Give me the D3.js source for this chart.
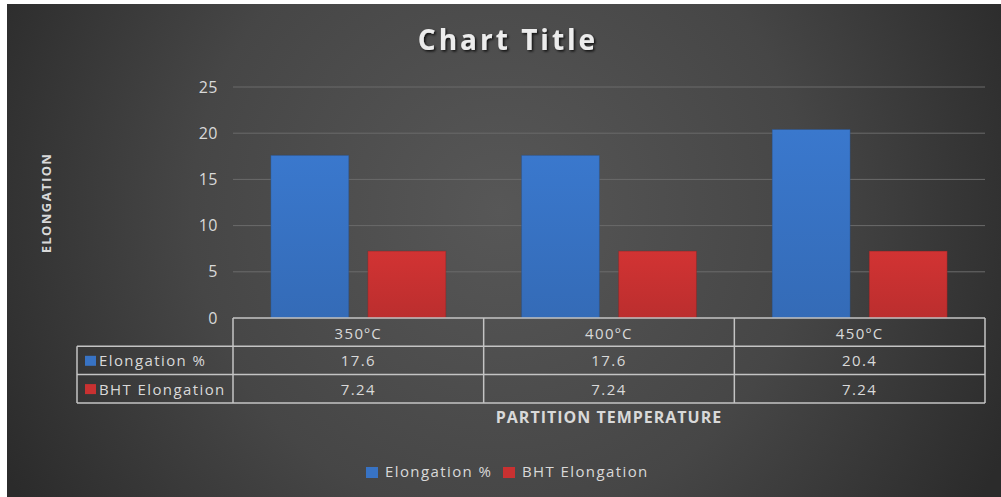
<!DOCTYPE html>
<html>
<head>
<meta charset="utf-8">
<script src="https://cdn.jsdelivr.net/npm/d3@7"></script>
<style>
  html, body { margin: 0; padding: 0; background: #fff; }
  svg { display: block; font-family: "Open Sans", sans-serif; }
</style>
</head>
<body>
<svg id="chart"></svg>
<script>
// Data
const categories = ['350ºC', '400ºC', '450ºC'];
const seriesNames = ['Elongation %', 'BHT Elongation'];
const elongation = [17.6, 17.6, 20.4];
const bhtElongation = [7.24, 7.24, 7.24];
const yTicks = [0, 5, 10, 15, 20, 25];

const seriesValues = [elongation, bhtElongation];
const COLORS = ['#3873c4', '#c93131'];
const TEXT = '#d9d9d9';
const SPACING = '1.4px';

const width = 1001, height = 497;
const margin = { top: 87, right: 16, bottom: 179, left: 233 };

const svg = d3.select('#chart').attr('width', width).attr('height', height);
const defs = svg.append('defs');

// Background gradient
const bg = defs.append('radialGradient').attr('id', 'bg')
  .attr('gradientUnits', 'userSpaceOnUse')
  .attr('cx', 500).attr('cy', 210).attr('r', 560);
bg.append('stop').attr('offset', '0%').attr('stop-color', '#575757');
bg.append('stop').attr('offset', '55%').attr('stop-color', '#464646');
bg.append('stop').attr('offset', '100%').attr('stop-color', '#2b2b2b');

// Bar gradients
COLORS.forEach((c, i) => {
  const lg = defs.append('linearGradient').attr('id', 'bar' + i)
    .attr('x1', 0).attr('y1', 0).attr('x2', 0).attr('y2', 1);
  lg.append('stop').attr('offset', '0%').attr('stop-color', d3.color(c).brighter(0.12));
  lg.append('stop').attr('offset', '100%').attr('stop-color', d3.color(c).darker(0.2));
});

const shadow = defs.append('filter').attr('id', 'shadow')
  .attr('x', '-10%').attr('y', '-30%').attr('width', '120%').attr('height', '160%');
shadow.append('feDropShadow').attr('dx', 1.5).attr('dy', 1.5).attr('stdDeviation', 1.2)
  .attr('flood-color', '#000').attr('flood-opacity', 0.8);

svg.append('rect').attr('width', width).attr('height', height).attr('fill', '#fff');
svg.append('rect').attr('x', 7).attr('y', 4).attr('width', width - 7).attr('height', height - 4)
  .attr('fill', 'url(#bg)');

const plotW = width - margin.left - margin.right;
const plotBottom = height - margin.bottom;

const x = d3.scaleBand().domain(categories).range([margin.left, margin.left + plotW]).padding(0);
const x1 = d3.scaleBand().domain(seriesNames).range([0, x.bandwidth()])
  .paddingInner(0.197).paddingOuter(0.39);
const y = d3.scaleLinear().domain([0, 25]).range([plotBottom, margin.top]);

// Title
svg.append('text')
  .attr('x', 508).attr('y', 50)
  .attr('text-anchor', 'middle').attr('fill', '#ececec')
  .attr('font-size', '28px').attr('font-weight', 'bold').attr('letter-spacing', '3px')
  .attr('filter', 'url(#shadow)')
  .text('Chart Title');

// Gridlines
svg.append('g').selectAll('line').data(yTicks.filter(t => t > 0)).join('line')
  .attr('x1', margin.left).attr('x2', margin.left + plotW)
  .attr('y1', d => y(d)).attr('y2', d => y(d))
  .attr('stroke', '#6b6b6b').attr('stroke-width', 1);

// Y axis
const yAxis = d3.axisLeft(y).tickValues(yTicks).tickSize(0).tickPadding(15);
const yg = svg.append('g').attr('transform', `translate(${margin.left},0)`).call(yAxis);
yg.select('.domain').remove();
yg.selectAll('text').attr('fill', TEXT).attr('font-size', '16px').attr('letter-spacing', '0.5px')
  .attr('font-family', '"Open Sans", sans-serif');

// Bars
seriesNames.forEach((s, si) => {
  svg.append('g').selectAll('rect').data(categories).join('rect')
    .attr('x', d => x(d) + x1(s))
    .attr('y', (d, i) => y(seriesValues[si][i]))
    .attr('width', x1.bandwidth())
    .attr('height', (d, i) => y(0) - y(seriesValues[si][i]))
    .attr('fill', `url(#bar${si})`)
    .attr('stroke', d3.color(COLORS[si]).darker(1.2)).attr('stroke-opacity', 0.35);
});

// Data table
const rowH = 28.3;
const tableLeft = 77;
const tableRight = margin.left + plotW;
const tableStroke = '#c4c4c4';
const tg = svg.append('g');
[0, 1, 2, 3].forEach(r => {
  tg.append('line')
    .attr('x1', r === 0 ? margin.left : tableLeft).attr('x2', tableRight)
    .attr('y1', plotBottom + r * rowH).attr('y2', plotBottom + r * rowH)
    .attr('stroke', tableStroke).attr('stroke-width', 1.5);
});
tg.append('line').attr('x1', tableLeft).attr('x2', tableLeft)
  .attr('y1', plotBottom + rowH).attr('y2', plotBottom + 3 * rowH)
  .attr('stroke', tableStroke).attr('stroke-width', 1.5);
categories.concat(['end']).forEach((c, i) => {
  const xx = i < categories.length ? x(c) : tableRight;
  tg.append('line').attr('x1', xx).attr('x2', xx)
    .attr('y1', plotBottom).attr('y2', plotBottom + 3 * rowH)
    .attr('stroke', tableStroke).attr('stroke-width', 1.5);
});
tg.selectAll('text.hdr').data(categories).join('text')
  .attr('x', d => x(d) + x.bandwidth() / 2).attr('y', plotBottom + 21)
  .attr('text-anchor', 'middle').attr('fill', TEXT).attr('font-size', '15px')
  .attr('letter-spacing', SPACING)
  .text(d => d);
seriesNames.forEach((s, si) => {
  const ry = plotBottom + (si + 1) * rowH;
  tg.append('rect').attr('x', 85).attr('y', ry + 9.5).attr('width', 11).attr('height', 10)
    .attr('fill', COLORS[si]);
  tg.append('text').attr('x', 99).attr('y', ry + 20)
    .attr('fill', TEXT).attr('font-size', '15px').attr('letter-spacing', SPACING).text(s);
  categories.forEach((c, ci) => {
    tg.append('text')
      .attr('x', x(c) + x.bandwidth() / 2).attr('y', ry + 20)
      .attr('text-anchor', 'middle').attr('fill', TEXT).attr('font-size', '15px')
      .attr('letter-spacing', SPACING)
      .text(seriesValues[si][ci]);
  });
});

// Axis titles
svg.append('text')
  .attr('x', margin.left + plotW / 2).attr('y', 423)
  .attr('text-anchor', 'middle').attr('fill', TEXT)
  .attr('font-size', '16px').attr('font-weight', 'bold').attr('letter-spacing', '1px')
  .text('PARTITION TEMPERATURE');

svg.append('text')
  .attr('transform', 'translate(51,203) rotate(-90)')
  .attr('text-anchor', 'middle').attr('fill', TEXT)
  .attr('font-size', '13px').attr('font-weight', 'bold').attr('letter-spacing', '1.4px')
  .text('ELONGATION');

// Legend
const legend = svg.append('g');
const legendX = [366, 503];
seriesNames.forEach((s, i) => {
  legend.append('rect').attr('x', legendX[i]).attr('y', 467).attr('width', 12).attr('height', 11)
    .attr('fill', COLORS[i]);
  legend.append('text').attr('x', legendX[i] + 19).attr('y', 477)
    .attr('fill', TEXT).attr('font-size', '15px').attr('letter-spacing', SPACING).text(s);
});
</script>
</body>
</html>
